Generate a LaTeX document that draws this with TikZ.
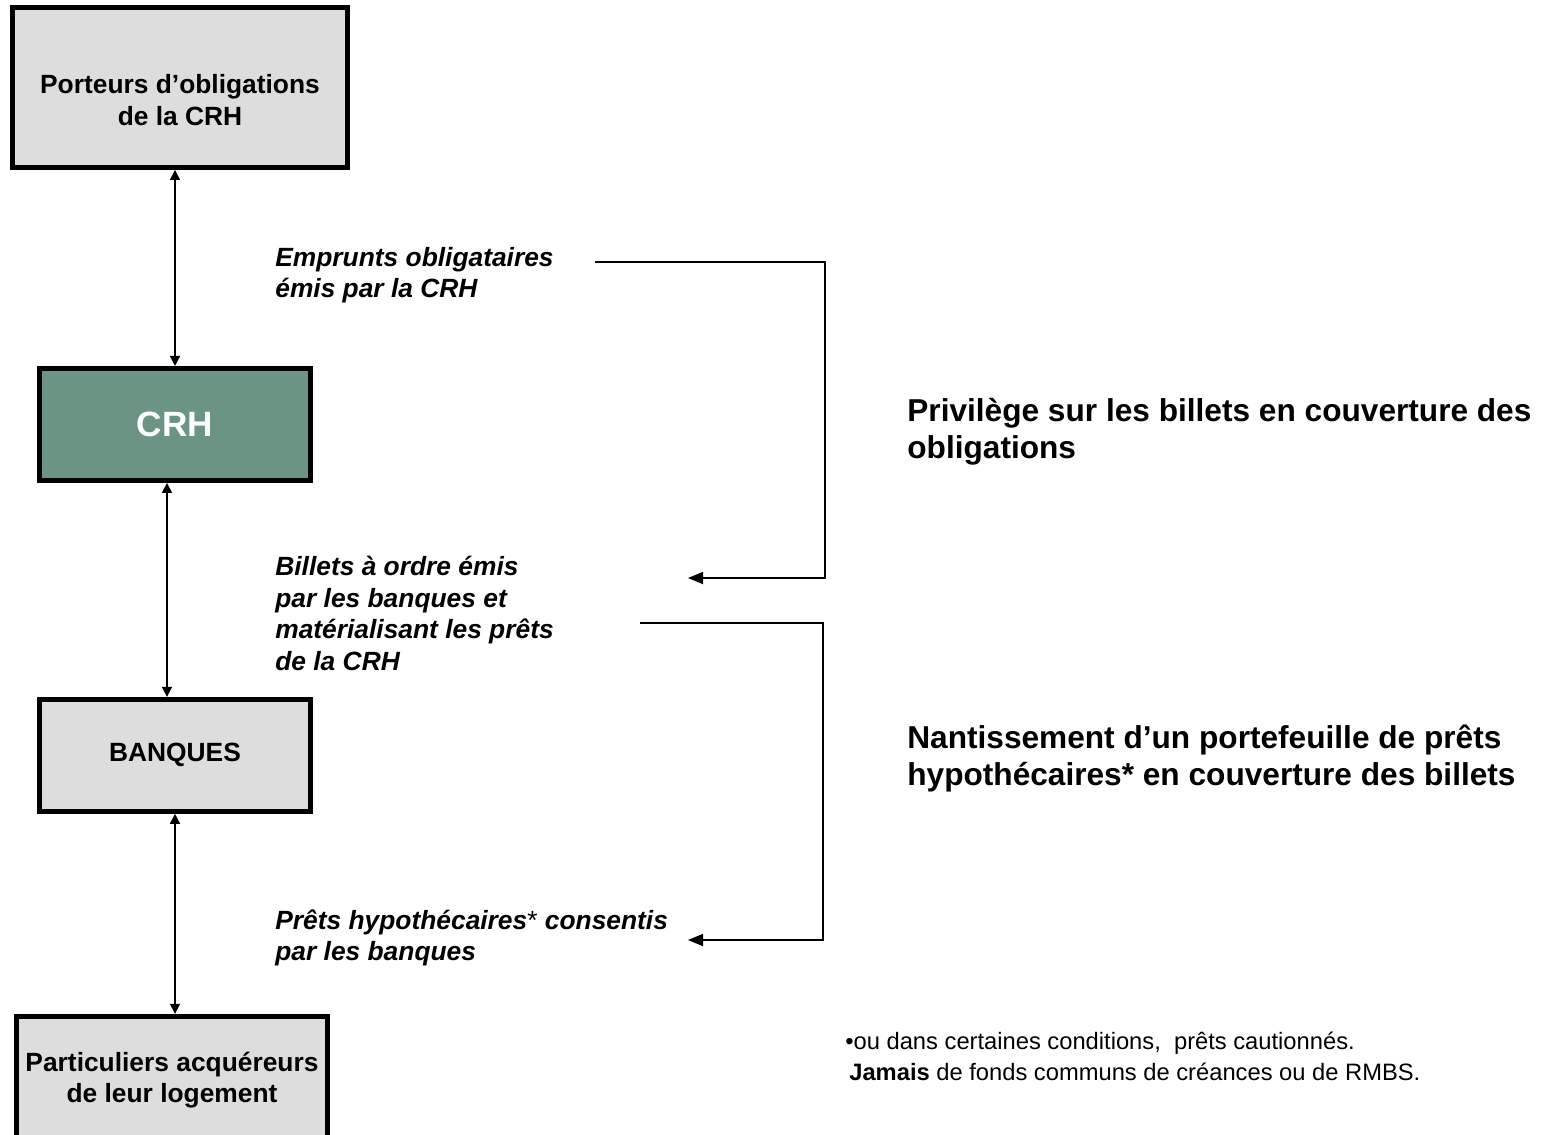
\documentclass[tikz,border=0pt]{standalone}
\usepackage{fontspec}
\setmainfont{Liberation Sans}
\usetikzlibrary{arrows.meta,positioning}
\definecolor{cGray}{RGB}{221,221,221}
\definecolor{cCrh}{RGB}{107,148,132}
\tikzset{
  basebox/.style={rectangle,draw=black,line width=2.8pt,align=center,
                  font=\fontsize{15}{18}\selectfont\bfseries},
  graynode/.style={basebox,fill=cGray,minimum width=5.42cm,minimum height=2.24cm},
  crhnode/.style={basebox,fill=cCrh,text=white,minimum width=5.42cm,minimum height=2.24cm,
                  font=\fontsize{20}{24}\selectfont\bfseries},
  lbl/.style={anchor=west,align=left,inner sep=0pt,
              font=\fontsize{15}{18}\selectfont\bfseries\itshape},
  bigtxt/.style={anchor=west,align=left,inner sep=0pt,
                 font=\fontsize{18}{21}\selectfont\bfseries},
  notetxt/.style={anchor=west,align=left,inner sep=0pt,
                  font=\fontsize{13.5}{17.6}\selectfont},
  dblarr/.style={{Triangle[length=0.2cm,width=0.2cm]}-{Triangle[length=0.2cm,width=0.2cm]},
                 line width=0.8pt},
  brkarr/.style={-{Triangle[length=0.3cm,width=0.24cm]},line width=1pt}
}

\begin{document}
\begin{tikzpicture}
  \useasboundingbox (0,0) rectangle (31.06,-22.68);

  % Boxes of the chain
  \node[graynode,minimum width=6.7cm,minimum height=3.2cm,text height=1.53cm]
      (porteurs) at (3.6,-1.75) {Porteurs d’obligations\\de la CRH};
  \node[crhnode,below=3.92cm of porteurs,xshift=-0.1cm] (crh) {CRH};
  \node[graynode,below=4.28cm of crh] (banques) {BANQUES};
  \node[graynode,minimum width=6.22cm,minimum height=2.56cm,
        below=4.0cm of banques,xshift=-0.06cm] (partic)
      {Particuliers acquéreurs\\de leur logement};

  \draw[dblarr] (crh.north) -- (crh.north |- porteurs.south);
  \draw[dblarr] ([xshift=-0.16cm]crh.south) -- ([xshift=-0.16cm]banques.north);
  \draw[dblarr] (banques.south) -- (banques.south |- partic.north);

  % Flow labels
  \node[lbl] (emprunts) at (5.5,-5.5) {Emprunts obligataires\\émis par la CRH};
  \node[lbl] (billets) at (5.5,-12.27)
      {Billets à ordre émis\\par les banques et\\matérialisant les prêts\\de la CRH};
  \node[lbl] (prets) at (5.5,-18.76)
      {Prêts hypothécaires{\upshape\mdseries*} consentis\\par les banques};

  % Guarantees
  \node[bigtxt] (privilege) at (18.14,-8.63)
      {Privilège sur les billets en couverture des\\obligations};
  \node[bigtxt] (nantis) at (18.14,-15.17)
      {Nantissement d’un portefeuille de prêts\\hypothécaires* en couverture des billets};

  \coordinate (b1start) at (11.9,-5.24);
  \coordinate (b1end) at (13.76,-11.56);
  \coordinate (b2start) at (12.8,-12.46);
  \coordinate (b2end) at (13.76,-18.8);
  \draw[brkarr] (b1start) -- ++(4.6,0) |- (b1end);
  \draw[brkarr] (b2start) -- ++(3.66,0) |- (b2end);

  % Footnote
  \node[notetxt] (footnote) at (16.9,-21.13)
      {•ou dans certaines conditions,\ \ prêts cautionnés.\\
       \hspace*{0.08cm}\textbf{Jamais} de fonds communs de créances ou de RMBS.};

\end{tikzpicture}
\end{document}
